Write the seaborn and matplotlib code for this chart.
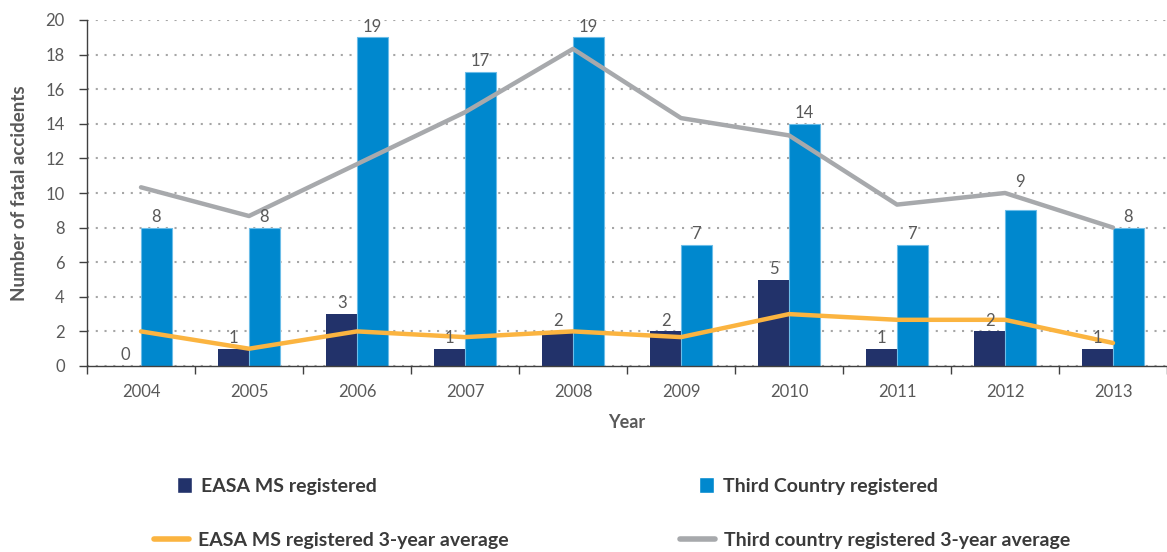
import numpy as np
import pandas as pd
import matplotlib
matplotlib.use("Agg")
import matplotlib.pyplot as plt
import seaborn as sns
from matplotlib.patches import Patch
from matplotlib.lines import Line2D

# ---------------- data ----------------
years = ["2004", "2005", "2006", "2007", "2008", "2009", "2010", "2011", "2012", "2013"]
easa_ms = [0, 1, 3, 1, 2, 2, 5, 1, 2, 1]
third_country = [8, 8, 19, 17, 19, 7, 14, 7, 9, 8]
easa_ms_avg = [2.0, 1.0, 2.0, 1.67, 2.0, 1.67, 3.0, 2.67, 2.67, 1.33]
third_country_avg = [10.33, 8.67, 11.67, 14.67, 18.33, 14.33, 13.33, 9.33, 10.0, 8.0]
bar_series = ["EASA MS registered", "Third Country registered"]
line_series = ["EASA MS registered 3-year average", "Third country registered 3-year average"]

NAVY = "#22326a"
BLUE = "#0088ce"
ORANGE = "#fbb440"
GREY = "#a7a9ac"
TXT = "#595959"

sns.set_theme(style="white")
plt.rcParams["font.family"] = ["Lato", "DejaVu Sans"]

W, H = 1167, 552
fig = plt.figure(figsize=(W / 100, H / 100), dpi=100)
ax = fig.add_axes([87 / W, 1 - 366 / H, (1167 - 87) / W, (366 - 20) / H])

df = pd.DataFrame({
    "Year": years * 2,
    "Count": easa_ms + third_country,
    "Series": [bar_series[0]] * len(years) + [bar_series[1]] * len(years),
})
sns.barplot(data=df, x="Year", y="Count", hue="Series", hue_order=bar_series,
            palette=[NAVY, BLUE], saturation=1, width=0.57, ax=ax,
            legend=False, zorder=2, linewidth=0)
for bar in ax.containers[1]:
    bar.set_edgecolor("#6cbde8")
    bar.set_linewidth(0.8)

xpos = np.arange(len(years))
sns.lineplot(x=xpos, y=third_country_avg, color=GREY, linewidth=3.2, ax=ax, zorder=3)
sns.lineplot(x=xpos, y=easa_ms_avg, color=ORANGE, linewidth=3.2, ax=ax, zorder=3)

# data labels
for ci, (cont, vals) in enumerate(zip(ax.containers[:2], [easa_ms, third_country])):
    for i, (bar, v) in enumerate(zip(cont, vals)):
        cx = bar.get_x() + bar.get_width() / 2
        y = v
        if ci == 1 and years[i] == "2012":
            y = third_country_avg[i]  # label sits above the average line
        ax.annotate(str(v), (cx, y), xytext=(0, 2), textcoords="offset points",
                    ha="center", va="bottom", fontsize=12, color=TXT, zorder=4)

# axes styling
ax.set_ylim(0, 20)
ax.set_xlim(-0.5, len(years) - 0.5)
ax.set_yticks(np.arange(0, 21, 2))
ax.yaxis.grid(True, color="#a6a6a6", linestyle=(0, (1, 3.2)), linewidth=1.5)
ax.xaxis.grid(False)
ax.set_axisbelow(True)
for s in ["top", "right"]:
    ax.spines[s].set_visible(False)
for s in ["left", "bottom"]:
    ax.spines[s].set_color("#404040")
    ax.spines[s].set_linewidth(1)

ax.set_xticks(np.arange(-0.5, len(years) + 0.5, 1))
ax.set_xticklabels([])
ax.set_xticks(xpos, labels=years, minor=True)
ax.tick_params(axis="x", which="major", length=6, width=1, color="#404040", direction="out", bottom=True)
ax.tick_params(axis="x", which="minor", length=0, pad=13, labelsize=12, labelcolor=TXT, bottom=True)
ax.tick_params(axis="y", length=6, width=1, color="#404040", direction="out", left=True,
               pad=10, labelsize=12, labelcolor=TXT)

ax.set_xlabel("Year", fontsize=13, fontweight="bold", color=TXT)
ax.xaxis.set_label_coords(0.5, -(414 - 366) / 346)
ax.set_ylabel("Number of fatal accidents", fontsize=13.5, fontweight="bold", color=TXT)
ax.yaxis.set_label_coords((28 - 87) / 1080, 0.5)

# legend (four entries placed as in the reference)
lprop = {"weight": "bold", "size": 14}
LC = "#3a3a3a"
entries = [
    (Patch(facecolor=NAVY, label=bar_series[0]), 177, 486, 0.75, 0.5),
    (Patch(facecolor=BLUE, label=bar_series[1]), 699, 486, 0.75, 0.5),
    (Line2D([], [], color=ORANGE, lw=4, label=line_series[0]), 154, 540, 1.8, 0.45),
    (Line2D([], [], color=GREY, lw=4, label=line_series[1]), 680, 540, 1.8, 0.45),
]
for h, x, y, hl, hp in entries:
    fig.legend(handles=[h], loc="center left", bbox_to_anchor=(x / W, 1 - y / H),
               frameon=False, borderpad=0, borderaxespad=0, handlelength=hl,
               handleheight=0.9, handletextpad=hp, prop=lprop, labelcolor=LC)

fig.savefig("out.png", dpi=100)
